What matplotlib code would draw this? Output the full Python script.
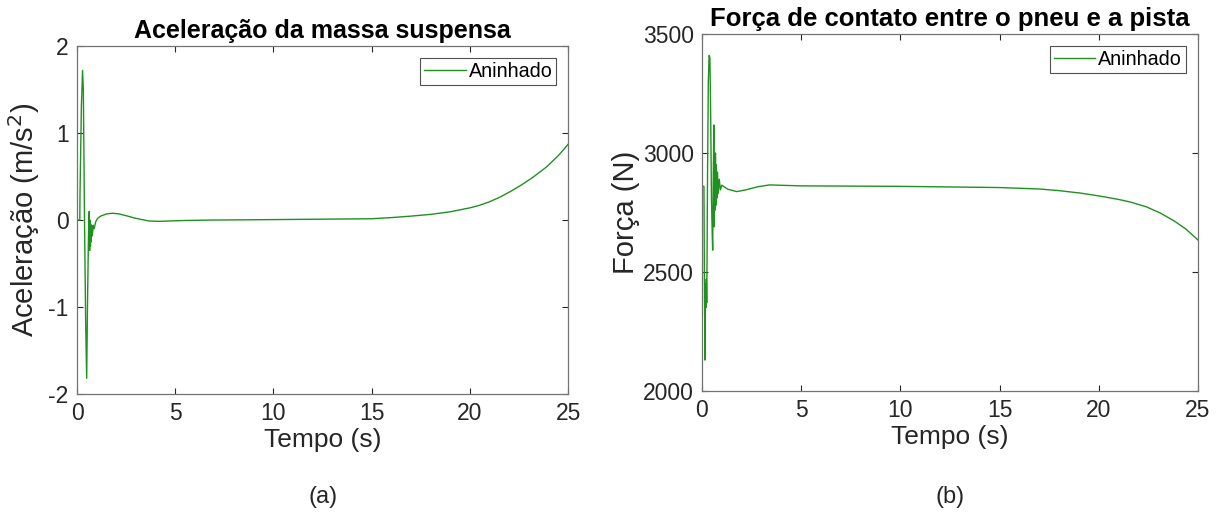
import matplotlib.pyplot as plt

plt.rcParams['font.family'] = ['Liberation Sans', 'DejaVu Sans']
plt.rcParams['axes.unicode_minus'] = False

# suspended mass acceleration (m/s^2) vs time (s)
t_acc = [0, 0.14, 0.15, 0.22, 0.28, 0.32, 0.38, 0.44, 0.49, 0.53, 0.58, 0.62,
         0.64, 0.66, 0.68, 0.70, 0.72, 0.75, 0.78, 0.82, 0.87, 0.95, 1.05, 1.2,
         1.5, 1.8, 2.1, 2.5, 2.9, 3.3, 3.7, 4.2, 4.8, 5.5, 7, 10, 15, 16, 17,
         18, 19, 20, 20.5, 21, 21.5, 22, 22.6, 23.2, 23.9, 24.5, 25]
acc = [0, 0, 0.3, 1.3, 1.72, 1.5, 0.0, -1.2, -1.82, -1.0, -0.2, 0.1,
       -0.35, 0.0, -0.3, -0.05, -0.25, -0.08, -0.18, -0.06, -0.1, -0.02, 0.02, 0.045,
       0.07, 0.078, 0.072, 0.05, 0.025, 0.005, -0.012, -0.015, -0.01, -0.005, 0.0, 0.005, 0.015, 0.028, 0.045,
       0.065, 0.095, 0.14, 0.17, 0.21, 0.26, 0.32, 0.40, 0.49, 0.61, 0.74, 0.87]

# tyre-road contact force (N) vs time (s)
t_force = [0, 0.1, 0.12, 0.15, 0.18, 0.2, 0.22, 0.24, 0.26, 0.28, 0.32, 0.36,
           0.40, 0.44, 0.48, 0.52, 0.54, 0.57, 0.60, 0.62, 0.64, 0.66, 0.68,
           0.70, 0.72, 0.75, 0.78, 0.82, 0.87, 0.93, 1.0, 1.3, 1.75, 2.2, 2.8,
           3.4, 4.2, 5, 10, 15, 16, 17, 18, 19.05, 20, 21, 21.6, 22.4, 23.1,
           23.8, 24.4, 25]
force = [2860, 2860, 2500, 2130, 2450, 2350, 2470, 2370, 2600, 2900, 3300, 3410,
         3400, 3150, 2800, 2650, 2592, 2900, 3118, 2690, 2983, 2760, 3000,
         2780, 2950, 2810, 2920, 2830, 2890, 2845, 2865, 2848, 2838, 2845, 2858,
         2866, 2864, 2862, 2860, 2855, 2852, 2849, 2842, 2832, 2820, 2805, 2794, 2774, 2748,
         2715, 2680, 2635]

green = '#1f911f'
gray = '0.45'


def style_axes(ax):
    ax.tick_params(direction='in', top=True, right=True, labelsize=16.5,
                   colors='0.15', length=4, width=0.8, pad=6)
    for sp in ax.spines.values():
        sp.set_color(gray)
        sp.set_linewidth(0.9)


def add_legend(ax):
    leg = ax.legend(loc='upper right', fontsize=14.2, frameon=True, fancybox=False,
                    handlelength=2.1, handletextpad=0.15, borderpad=0.2,
                    borderaxespad=0.6)
    leg.get_frame().set_edgecolor('0.15')
    leg.get_frame().set_linewidth(0.8)


fig = plt.figure(figsize=(12.27, 5.32), dpi=100)

ax1 = fig.add_axes([0.0628, 0.2594, 0.4002, 0.654])
ax1.plot(t_acc, acc, color=green, lw=1.0, label='Aninhado')
ax1.set_xlim(0, 25)
ax1.set_ylim(-2, 2)
ax1.set_xticks([0, 5, 10, 15, 20, 25])
ax1.set_yticks([-2, -1, 0, 1, 2])
ax1.set_title('Aceleração da massa suspensa', fontsize=18, fontweight='bold', pad=6)
ax1.set_xlabel('Tempo (s)', fontsize=19, color='0.15', labelpad=2)
ax1.set_ylabel('Aceleração (m/s$^2$)', fontsize=21, color='0.15')
ax1.yaxis.set_label_coords(-0.072, 0.5)
style_axes(ax1)
add_legend(ax1)
ax1.text(0.5, -0.296, '(a)', transform=ax1.transAxes, ha='center', va='center',
         fontsize=17, color='0.15')

ax2 = fig.add_axes([0.5721, 0.265, 0.4042, 0.671])
ax2.plot(t_force, force, color=green, lw=1.0, label='Aninhado')
ax2.set_xlim(0, 25)
ax2.set_ylim(2000, 3500)
ax2.set_xticks([0, 5, 10, 15, 20, 25])
ax2.set_yticks([2000, 2500, 3000, 3500])
ax2.set_title('Força de contato entre o pneu e a pista', fontsize=18.5,
              fontweight='bold', pad=6)
ax2.set_xlabel('Tempo (s)', fontsize=19, color='0.15', labelpad=2)
ax2.set_ylabel('Força (N)', fontsize=21, color='0.15', labelpad=2)
style_axes(ax2)
add_legend(ax2)
ax2.text(0.5, -0.297, '(b)', transform=ax2.transAxes, ha='center', va='center',
         fontsize=17, color='0.15')

fig.savefig('out.png', dpi=100)
